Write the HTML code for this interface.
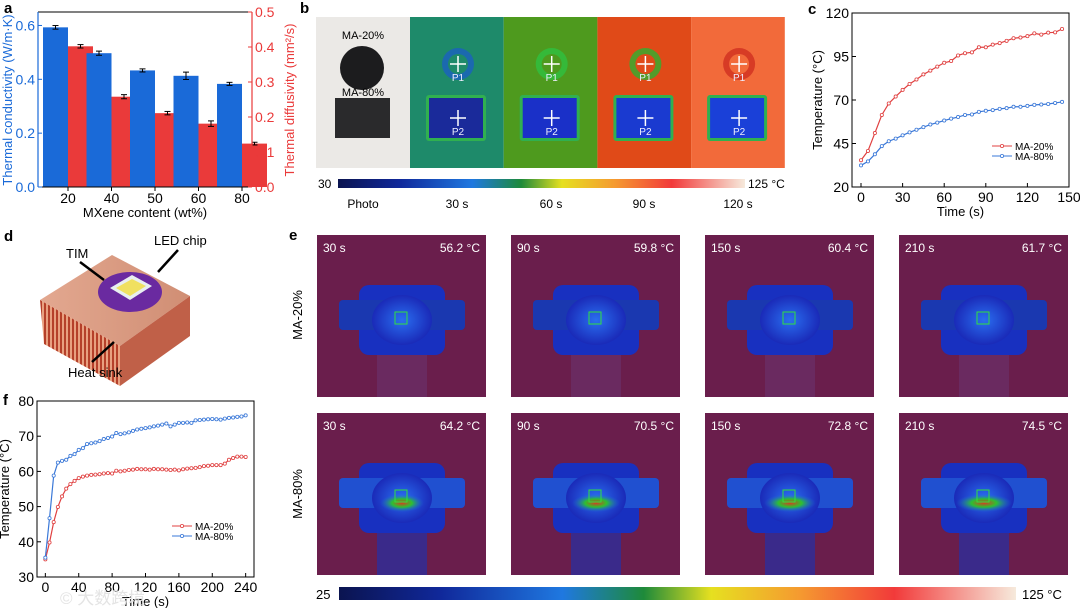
<!DOCTYPE html>
<html><head><meta charset="utf-8"><style>
body{margin:0;background:#fff}
svg{display:block;font-family:"Liberation Sans","Noto Sans CJK SC",sans-serif}
</style></head><body>
<svg id="fig" width="1080" height="608" viewBox="0 0 1080 608">
<defs>
<linearGradient id="cbar" x1="0" x2="1" y1="0" y2="0">
<stop offset="0" stop-color="#0b1450"/><stop offset="0.15" stop-color="#10289a"/><stop offset="0.33" stop-color="#1f78e0"/><stop offset="0.45" stop-color="#1e8a3a"/><stop offset="0.55" stop-color="#e6e020"/><stop offset="0.68" stop-color="#f59a30"/><stop offset="0.82" stop-color="#f23a3a"/><stop offset="1" stop-color="#f6eadc"/>
</linearGradient>
<radialGradient id="hotspot"><stop offset="0" stop-color="#d83a20"/><stop offset="0.45" stop-color="#2ec030"/><stop offset="1" stop-color="#1a6ae0" stop-opacity="0"/></radialGradient>
<radialGradient id="cool"><stop offset="0" stop-color="#2a6ef0"/><stop offset="1" stop-color="#1a2ab8"/></radialGradient>
<linearGradient id="copper" x1="0" x2="1"><stop offset="0" stop-color="#e3a890"/><stop offset="1" stop-color="#d08e74"/></linearGradient>
<pattern id="fins" width="4" height="10" patternUnits="userSpaceOnUse"><rect width="4" height="10" fill="#e8a080"/><rect width="2" height="10" fill="#b5402a"/></pattern>
</defs>
<g font-weight="bold" font-size="15" fill="#000">
<text x="4" y="13">a</text>
<text x="300" y="13">b</text>
<text x="808" y="14">c</text>
<text x="4" y="241">d</text>
<text x="289" y="240">e</text>
<text x="3" y="405">f</text>
</g>
<g id="pa"></g>
<g id="pb"></g>
<g id="pc"></g>
<g id="pd">
<polygon points="40,300 120,346 190,296 112,255" fill="url(#copper)"/>
<polygon points="40,300 120,346 120,386 44,344" fill="url(#fins)"/>
<polygon points="120,346 190,296 190,336 120,386" fill="#c06048"/>
<ellipse cx="130" cy="292" rx="32" ry="20" fill="#6a2aa0"/>
<polygon points="110,288 130,300 152,286 132,275" fill="#e8eef0"/>
<polygon points="116,288 130,296 146,286 132,279" fill="#f0e060"/>
<text x="66" y="258" font-size="13">TIM</text>
<text x="154" y="245" font-size="13">LED chip</text>
<text x="68" y="377" font-size="13">Heat sink</text>
<line x1="80" y1="262" x2="104" y2="280" stroke="#000" stroke-width="2.5"/>
<line x1="178" y1="250" x2="158" y2="272" stroke="#000" stroke-width="2.5"/>
<line x1="92" y1="362" x2="114" y2="342" stroke="#000" stroke-width="2.5"/>
</g>
<g id="pe"></g>
<g id="pf"></g>
<text x="60" y="604" font-size="17" fill="#e4e4e4">© 大数跨境</text>
</svg>
<script>
const NS="http://www.w3.org/2000/svg";
function mk(p,t,a){const e=document.createElementNS(NS,t);for(const k in a)e.setAttribute(k,a[k]);p.appendChild(e);return e;}
function txt(p,x,y,s,a){const e=mk(p,"text",Object.assign({x:x,y:y},a||{}));e.textContent=s;return e;}

// ---------- Panel a data ----------
const aCategories=["20","40","50","60","80"];
const aConductivity=[0.593,0.497,0.433,0.413,0.383];
const aConductivityErr=[0.003,0.004,0.002,0.01,0.002];
const aDiffusivity=[0.402,0.258,0.211,0.181,0.124];
const aDiffusivityErr=[0.002,0.003,0.002,0.005,0.001];
const aLeftTicks=[0.0,0.2,0.4,0.6];
const aRightTicks=[0.0,0.1,0.2,0.3,0.4,0.5];

// ---------- Panel c data ----------
const cTime=[0,5,10,15,20,25,30,35,40,45,50,55,60,65,70,75,80,85,90,95,100,105,110,115,120,125,130,135,140,145];
const cMA20=[35.4,40.7,51,61.4,68,72,75.8,79.2,81.8,84.7,86.9,89.2,91.4,92.4,95.6,96.9,97.4,100.3,100.3,101.8,102.7,104,105.5,105.9,106.7,108.3,107.6,108.7,108.9,110.8];
const cMA80=[32.4,34.7,38.8,43.5,46.3,47.8,49.7,51.4,52.9,54.4,55.9,57,58.2,59.3,60.2,61.4,61.7,63.2,63.8,64.2,64.9,65.3,66.1,66.1,66.6,67.2,67.4,67.7,68.3,68.9];
const cXTicks=[0,30,60,90,120,150];
const cYTicks=[20,45,70,95,120];

// ---------- Panel f data ----------
const fTime=[0,5,10,15,20,25,30,35,40,45,50,55,60,65,70,75,80,85,90,95,100,105,110,115,120,125,130,135,140,145,150,155,160,165,170,175,180,185,190,195,200,205,210,215,220,225,230,235,240];
const fMA20=[35,39.8,45.6,49.9,52.9,55.1,56.4,57.3,58.1,58.5,58.8,59,59.1,59.2,59.4,59.5,59.4,60.2,60,60.2,60.4,60.5,60.7,60.6,60.6,60.5,60.7,60.6,60.6,60.5,60.4,60.5,60.3,60.6,60.8,60.9,61,61.2,61.5,61.6,61.8,61.8,61.8,62.2,63.3,63.8,64.2,64.2,64.1];
const fMA80=[35.5,46.7,58.8,62.5,63,63.3,64.4,64.9,66.1,66.6,67.8,68,68.2,68.6,69.2,69.5,69.9,70.9,70.6,70.8,71.1,71.5,71.9,72.1,72.3,72.5,72.8,73,73.3,73.6,72.8,73.3,73.8,73.8,73.9,73.8,74.5,74.6,74.7,74.8,74.9,74.8,74.7,75,75.2,75.3,75.5,75.6,75.9];
const fXTicks=[0,40,80,120,160,200,240];
const fYTicks=[30,40,50,60,70,80];

// ---------- Panel a ----------
(function(){
 const g=document.getElementById("pa");
 const L=38,R=252,T=12,B=187;
 const yL=v=>B-(v/0.65)*(B-T), yR=v=>B-(v/0.5)*(B-T);
 const x0=68, step=43.5, bw=25;
 aCategories.forEach((c,i)=>{
  const cx=x0+i*step;
  const b=mk(g,"rect",{x:cx-bw,y:yL(aConductivity[i]),width:bw,height:B-yL(aConductivity[i]),fill:"#1a6ad8"});
  
  
  const r=mk(g,"rect",{x:cx,y:yR(aDiffusivity[i]),width:bw,height:B-yR(aDiffusivity[i]),fill:"#ea3a3a"});
  
  
  [[cx-bw/2,yL(aConductivity[i]+aConductivityErr[i]),yL(aConductivity[i]-aConductivityErr[i])],[cx+bw/2,yR(aDiffusivity[i]+aDiffusivityErr[i]),yR(aDiffusivity[i]-aDiffusivityErr[i])]].forEach(e=>{
   mk(g,"line",{x1:e[0],x2:e[0],y1:e[1]-1,y2:e[2]+1,stroke:"#000","stroke-width":1});
   mk(g,"line",{x1:e[0]-3,x2:e[0]+3,y1:e[1]-1,y2:e[1]-1,stroke:"#000","stroke-width":1});
   mk(g,"line",{x1:e[0]-3,x2:e[0]+3,y1:e[2]+1,y2:e[2]+1,stroke:"#000","stroke-width":1});
  });
  mk(g,"line",{x1:cx,x2:cx,y1:B,y2:B+4,stroke:"#000"});
  const t=txt(g,cx,B+16,c,{"font-size":14,"text-anchor":"middle"});
  
  
 });
 mk(g,"line",{x1:L,x2:R,y1:T,y2:T,stroke:"#000"});
 mk(g,"line",{x1:L,x2:R,y1:B,y2:B,stroke:"#000"});
 mk(g,"line",{x1:L,x2:L,y1:T,y2:B,stroke:"#1a6ad8","stroke-width":1.2});
 mk(g,"line",{x1:R,x2:R,y1:T,y2:B,stroke:"#ea3a3a","stroke-width":1.2});
 aLeftTicks.forEach(v=>{mk(g,"line",{x1:L,x2:L+4,y1:yL(v),y2:yL(v),stroke:"#1a6ad8"});
  const t=txt(g,L-3,yL(v)+5,v.toFixed(1),{"font-size":14,"text-anchor":"end",fill:"#1a6ad8"});
  
  });
 aRightTicks.forEach(v=>{mk(g,"line",{x1:R,x2:R-4,y1:yR(v),y2:yR(v),stroke:"#ea3a3a"});
  const t=txt(g,R+3,yR(v)+5,v.toFixed(1),{"font-size":14,fill:"#ea3a3a"});
  
  });
 let t=txt(g,145,217,"MXene content (wt%)",{"font-size":13,"text-anchor":"middle"});
 
 t=txt(g,0,0,"Thermal conductivity (W/m·K)",{"font-size":13,"text-anchor":"middle",fill:"#1a6ad8",transform:"translate(12,100) rotate(-90)"});
 
 t=txt(g,0,0,"Thermal diffusivity (mm²/s)",{"font-size":13,"text-anchor":"middle",fill:"#ea3a3a",transform:"translate(294,100) rotate(-90)"});
 
})();

// ---------- line chart helper ----------
function lineChart(g,o){
 const sx=v=>o.L+(v-o.xmin)/(o.xmax-o.xmin)*(o.R-o.L), sy=v=>o.B-(v-o.ymin)/(o.ymax-o.ymin)*(o.B-o.T);
 mk(g,"rect",{x:o.L,y:o.T,width:o.R-o.L,height:o.B-o.T,fill:"none",stroke:"#000","stroke-width":1});
 o.xt.forEach(v=>{mk(g,"line",{x1:sx(v),x2:sx(v),y1:o.B,y2:o.B-4,stroke:"#000"});
  const t=txt(g,sx(v),o.B+15,String(v),{"font-size":14,"text-anchor":"middle"});
  });
 o.yt.forEach(v=>{mk(g,"line",{x1:o.L,x2:o.L+4,y1:sy(v),y2:sy(v),stroke:"#000"});
  const t=txt(g,o.L-3,sy(v)+5,String(v),{"font-size":14,"text-anchor":"end"});
  });
 o.series.forEach(s=>{
  const p=mk(g,"polyline",{points:o.x.map((v,i)=>sx(v)+","+sy(s.y[i])).join(" "),fill:"none",stroke:s.c,"stroke-width":1.2});
  
  o.x.forEach((v,i)=>{const c=mk(g,"circle",{cx:sx(v),cy:sy(s.y[i]),r:1.6,fill:"#fff",stroke:s.c,"stroke-width":0.8});
   });
 });
 let t=txt(g,(o.L+o.R)/2,o.B+29,"Time (s)",{"font-size":13,"text-anchor":"middle"});
 
 t=txt(g,0,0,"Temperature (°C)",{"font-size":13,"text-anchor":"middle",transform:"translate("+o.yx+","+(o.T+o.B)/2+") rotate(-90)"});
 
 o.series.forEach((s,i)=>{const y=o.lgy+i*10;
  mk(g,"line",{x1:o.lgx,x2:o.lgx+20,y1:y,y2:y,stroke:s.c});
  mk(g,"circle",{cx:o.lgx+10,cy:y,r:1.6,fill:"#fff",stroke:s.c,"stroke-width":0.8});
  const t=txt(g,o.lgx+23,y+4,s.name,{"font-size":10});
  });
}
lineChart(document.getElementById("pc"),{L:852,R:1069,T:13,B:187,xmin:-6.5,xmax:150,ymin:20,ymax:120,xt:cXTicks,yt:cYTicks,x:cTime,
 series:[{name:"MA-20%",y:cMA20,c:"#e04040"},{name:"MA-80%",y:cMA80,c:"#3a78d8"}],yx:822,lgx:992,lgy:146});
lineChart(document.getElementById("pf"),{L:37,R:254,T:401,B:577,xmin:-10,xmax:250,ymin:30,ymax:80,xt:fXTicks,yt:fYTicks,x:fTime,
 series:[{name:"MA-20%",y:fMA20,c:"#e04040"},{name:"MA-80%",y:fMA80,c:"#3a78d8"}],yx:9,lgx:172,lgy:526});

// ---------- Panel b ----------
(function(){
 const g=document.getElementById("pb");
 const ph=mk(g,"rect",{x:316,y:17,width:94,height:151,fill:"#ebe9e6"});
 
 txt(g,363,39,"MA-20%",{"font-size":11,"text-anchor":"middle"});
 mk(g,"circle",{cx:362,cy:68,r:22,fill:"#1c1c1e"});
 txt(g,363,96,"MA-80%",{"font-size":11,"text-anchor":"middle"});
 mk(g,"rect",{x:335,y:98,width:55,height:40,fill:"#2a2a2c"});
 const bgs=["#1e8a6a","#4e9a1e","#e04a18","#f26a3a"], inner=["#1a2a9a","#1a30c8","#1a3ad0","#1a40d8"];
 const circ=["#1a60c0","#30c040","#30b030","#d03020"];
 for(let i=0;i<4;i++){
  const x=410+i*93.7;
  const r=mk(g,"rect",{x:x,y:17,width:93.7,height:151,fill:bgs[i]});
  
  mk(g,"circle",{cx:x+48,cy:64,r:16,fill:circ[i],opacity:0.8});
  mk(g,"circle",{cx:x+48,cy:64,r:10,fill:bgs[i]});
  mk(g,"rect",{x:x+16,y:95,width:60,height:46,fill:"#30b050",rx:3});
  mk(g,"rect",{x:x+19,y:98,width:54,height:40,fill:inner[i]});
  [[64,"P1"],[118,"P2"]].forEach(p=>{
   mk(g,"line",{x1:x+40,x2:x+56,y1:p[0],y2:p[0],stroke:"#fff","stroke-width":1.5});
   mk(g,"line",{x1:x+48,x2:x+48,y1:p[0]-8,y2:p[0]+8,stroke:"#fff","stroke-width":1.5});
   txt(g,x+48,p[0]+17,p[1],{"font-size":10,fill:"#eef","text-anchor":"middle"});
  });
 }
 const cb=mk(g,"rect",{x:338,y:179,width:407,height:9,fill:"url(#cbar)"});
 
 txt(g,318,188,"30",{"font-size":12});
 txt(g,748,188,"125 °C",{"font-size":12});
 ["Photo","30 s","60 s","90 s","120 s"].forEach((s,i)=>{
  const t=txt(g,[363,457,551,644,738][i],208,s,{"font-size":12,"text-anchor":"middle"});
  });
})();

// ---------- Panel e ----------
(function(){
 const g=document.getElementById("pe");
 const times=["30 s","90 s","150 s","210 s"];
 const row20=["56.2 °C","59.8 °C","60.4 °C","61.7 °C"];
 const row80=["64.2 °C","70.5 °C","72.8 °C","74.5 °C"];
 [[235,row20,false],[413,row80,true]].forEach(row=>{
  for(let i=0;i<4;i++){
   const x=317+i*194, y=row[0], w=169, h=162;
   const r=mk(g,"rect",{x:x,y:y,width:w,height:h,fill:"#6a1e4c"});
   
   mk(g,"rect",{x:x+60,y:y+h*0.6,width:50,height:h*0.4,fill:row[2]?"#3a2a8a":"#6a2a60"});
   mk(g,"rect",{x:x+42,y:y+50,width:86,height:70,rx:10,fill:"#1830c0"});
   mk(g,"rect",{x:x+22,y:y+65,width:126,height:30,rx:4,fill:row[2]?"#2050d0":"#1a38b0"});
   mk(g,"ellipse",{cx:x+85,cy:y+85,rx:30,ry:25,fill:"url(#cool)"});
   if(row[2]) mk(g,"ellipse",{cx:x+85,cy:y+90,rx:22+i*2,ry:9,fill:"url(#hotspot)"});
   mk(g,"rect",{x:x+78,y:y+77,width:12,height:12,fill:"none",stroke:"#30e040","stroke-width":1});
   txt(g,x+6,y+17,times[i],{"font-size":12,fill:"#fff"});
   txt(g,x+w-6,y+17,row[1][i],{"font-size":12,fill:"#fff","text-anchor":"end"});
  }
 });
 let t=txt(g,0,0,"MA-20%",{"font-size":13,"text-anchor":"middle",transform:"translate(302,315) rotate(-90)"});
 
 t=txt(g,0,0,"MA-80%",{"font-size":13,"text-anchor":"middle",transform:"translate(302,494) rotate(-90)"});
 
 const cb=mk(g,"rect",{x:339,y:587,width:677,height:13,fill:"url(#cbar)"});
 
 txt(g,316,599,"25",{"font-size":13});
 txt(g,1022,599,"125 °C",{"font-size":13});
})();
</script>
</body></html>
